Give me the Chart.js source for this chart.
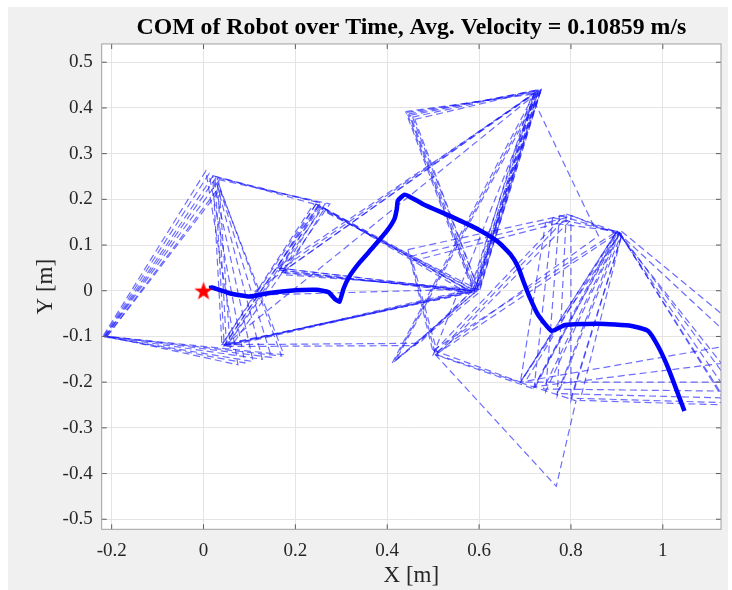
<!DOCTYPE html>
<html><head><meta charset="utf-8">
<script src="https://cdn.jsdelivr.net/npm/chart.js@4"></script>
<style>html,body{margin:0;padding:0;background:#fff;}canvas{display:block}</style>
</head><body>
<canvas id="c" width="732" height="590"></canvas>
<script>
// ---------- data ----------
const titleText = 'COM of Robot over Time, Avg. Velocity = 0.10859 m/s';
const xLabel = 'X [m]';
const yLabel = 'Y [m]';
const xTicks = [-0.2, 0, 0.2, 0.4, 0.6, 0.8, 1];
const xTickLabels = ['-0.2', '0', '0.2', '0.4', '0.6', '0.8', '1'];
const yTicks = [-0.5, -0.4, -0.3, -0.2, -0.1, 0, 0.1, 0.2, 0.3, 0.4, 0.5];
const yTickLabels = ['-0.5', '-0.4', '-0.3', '-0.2', '-0.1', '0', '0.1', '0.2', '0.3', '0.4', '0.5'];
const xRange = [-0.2217, 1.1267];
const yRange = [-0.522, 0.540];

// centre-of-mass path
const comX = [0.012, 0.018, 0.058, 0.101, 0.137, 0.188, 0.246, 0.272, 0.286, 0.296, 0.305, 0.318, 0.340, 0.369, 0.400, 0.416, 0.421, 0.423, 0.437, 0.447, 0.477, 0.542, 0.600, 0.640, 0.668, 0.685, 0.696, 0.710, 0.728, 0.758, 0.787, 0.86, 0.932, 0.968, 0.990, 1.012, 1.047];
const comY = [0.006, 0.007, -0.006, -0.0125, -0.006, 0.0, 0.002, -0.003, -0.018, -0.024, 0.005, 0.032, 0.062, 0.095, 0.132, 0.158, 0.180, 0.197, 0.21, 0.207, 0.19, 0.161, 0.133, 0.108, 0.080, 0.052, 0.022, -0.014, -0.052, -0.088, -0.075, -0.072, -0.077, -0.088, -0.122, -0.170, -0.263];
const startPoint = [0, 0];

// support triangles (three foot positions each)
const triangles = [
  [[-0.218,-0.098],[0.005,0.262],[0.075,-0.162]],
  [[-0.217,-0.100],[0.012,0.256],[0.090,-0.158]],
  [[-0.216,-0.101],[0.020,0.250],[0.108,-0.155]],
  [[-0.214,-0.100],[0.026,0.246],[0.128,-0.150]],
  [[-0.213,-0.099],[0.031,0.238],[0.148,-0.146]],
  [[-0.211,-0.100],[0.035,0.228],[0.170,-0.143]],
  [[-0.210,-0.100],[0.036,0.222],[0.175,-0.140]],
  [[0.020,0.252],[0.240,0.190],[0.040,-0.118]],
  [[0.025,0.250],[0.255,0.192],[0.045,-0.120]],
  [[0.030,0.247],[0.265,0.190],[0.050,-0.122]],
  [[0.033,0.243],[0.275,0.190],[0.058,-0.125]],
  [[0.245,0.190],[0.040,-0.118],[0.575,-0.005]],
  [[0.250,0.188],[0.045,-0.120],[0.580,0.000]],
  [[0.255,0.185],[0.050,-0.120],[0.585,0.004]],
  [[0.245,0.190],[0.160,0.050],[0.580,0.000]],
  [[0.250,0.185],[0.165,0.045],[0.585,-0.004]],
  [[0.255,0.180],[0.170,0.040],[0.590,0.000]],
  [[0.260,0.175],[0.175,0.035],[0.595,0.004]],
  [[0.160,0.050],[0.580,0.000],[0.720,0.430]],
  [[0.165,0.045],[0.585,-0.004],[0.725,0.436]],
  [[0.170,0.040],[0.590,0.000],[0.730,0.440]],
  [[0.100,-0.010],[0.592,0.004],[0.735,0.442]],
  [[0.045,-0.120],[0.590,0.000],[0.735,0.440]],
  [[0.440,0.392],[0.715,0.430],[0.585,0.005]],
  [[0.443,0.390],[0.720,0.433],[0.590,0.000]],
  [[0.447,0.387],[0.725,0.437],[0.592,-0.004]],
  [[0.450,0.384],[0.730,0.440],[0.595,0.000]],
  [[0.455,0.380],[0.733,0.441],[0.598,0.004]],
  [[0.460,0.375],[0.735,0.440],[0.600,0.000]],
  [[0.720,0.430],[0.410,-0.160],[0.595,0.000]],
  [[0.728,0.435],[0.415,-0.155],[0.600,-0.004]],
  [[0.735,0.440],[0.420,-0.150],[0.600,0.004]],
  [[0.045,-0.118],[0.470,-0.115],[0.580,-0.005]],
  [[0.050,-0.122],[0.460,-0.120],[0.585,0.000]],
  [[0.445,0.090],[0.785,0.165],[0.500,-0.135]],
  [[0.450,0.075],[0.790,0.160],[0.505,-0.140]],
  [[0.455,0.065],[0.800,0.155],[0.510,-0.140]],
  [[0.720,0.415],[0.860,0.120],[0.500,-0.140]],
  [[0.504,-0.139],[0.768,-0.428],[0.811,-0.241]],
  [[0.500,-0.130],[0.900,0.130],[0.690,-0.200]],
  [[0.505,-0.140],[0.900,0.125],[0.720,-0.215]],
  [[0.745,0.150],[0.900,0.130],[0.690,-0.200]],
  [[0.760,0.160],[0.905,0.128],[0.720,-0.210]],
  [[0.775,0.165],[0.905,0.125],[0.745,-0.220]],
  [[0.790,0.168],[0.910,0.125],[0.770,-0.230]],
  [[0.800,0.165],[0.910,0.120],[0.800,-0.240]],
  [[0.900,0.130],[1.160,-0.200],[0.700,-0.200]],
  [[0.905,0.128],[1.160,-0.220],[0.740,-0.215]],
  [[0.905,0.125],[1.150,-0.235],[0.770,-0.225]],
  [[0.910,0.120],[1.140,-0.245],[0.800,-0.235]],
  [[0.910,0.120],[1.140,-0.250],[0.820,-0.240]],
  [[0.910,0.130],[1.200,-0.110],[0.690,-0.200]],
  [[0.900,0.130],[1.200,-0.150],[0.720,-0.210]]
];

// ---------- styling / chart ----------
const SERIF = "'Liberation Serif', 'Times New Roman', serif";
const PLOT = {left: 101.7, right: 722.7, top: 44, bottom: 529.3};

function makeStar(size, color) {
  const c = document.createElement('canvas');
  c.width = size; c.height = size;
  const g = c.getContext('2d');
  const cx = size / 2, cy = size / 2 + 0.8, R = size / 2 - 0.3, r = R * 0.4;
  g.beginPath();
  for (let i = 0; i < 10; i++) {
    const a = -Math.PI / 2 + i * Math.PI / 5;
    const rr = i % 2 === 0 ? R : r;
    g.lineTo(cx + rr * Math.cos(a), cy + rr * Math.sin(a));
  }
  g.closePath();
  g.fillStyle = color;
  g.fill();
  return c;
}

const datasets = [];
datasets.push({
  label: 'start',
  data: [{x: startPoint[0], y: startPoint[1]}],
  showLine: false,
  pointStyle: makeStar(20, '#ff0000'),
  pointRadius: 10,
  clip: false
});
datasets.push({
  label: 'COM',
  data: comX.map((x, i) => ({x, y: comY[i]})),
  showLine: true,
  borderColor: '#0000ff',
  borderWidth: 4.5,
  pointRadius: 0,
  tension: 0.15,
  borderCapStyle: 'butt',
  borderJoinStyle: 'round'
});
triangles.forEach((t, k) => {
  const pts = t.concat([t[0]]).map(p => ({x: p[0], y: p[1]}));
  datasets.push({
    label: 'support ' + k,
    data: pts,
    showLine: true,
    borderColor: 'rgba(20,20,255,0.62)',
    borderWidth: 1.2,
    borderDash: [7, 4],
    pointRadius: 0,
    tension: 0
  });
});

const bgPlugin = {
  id: 'bg',
  beforeDraw(chart) {
    const ctx = chart.ctx, a = chart.chartArea;
    ctx.save();
    ctx.fillStyle = '#ffffff';
    ctx.fillRect(0, 0, chart.width, chart.height);
    ctx.fillStyle = '#f0f0f0';
    ctx.fillRect(8, 7, 720, 583);
    ctx.fillStyle = '#ffffff';
    ctx.fillRect(a.left, a.top, a.right - a.left, a.bottom - a.top);
    ctx.restore();
  }
};

const boxPlugin = {
  id: 'box',
  afterDraw(chart) {
    const ctx = chart.ctx, a = chart.chartArea;
    const xs = chart.scales.x, ys = chart.scales.y;
    ctx.save();
    ctx.strokeStyle = '#5a5a5a';
    ctx.lineWidth = 1;
    const tl = 5;
    ctx.beginPath();
    xTicks.forEach(v => {
      const px = xs.getPixelForValue(v);
      ctx.moveTo(px, a.bottom); ctx.lineTo(px, a.bottom - tl);
      ctx.moveTo(px, a.top); ctx.lineTo(px, a.top + tl);
    });
    yTicks.forEach(v => {
      const py = ys.getPixelForValue(v);
      ctx.moveTo(a.left, py); ctx.lineTo(a.left + tl, py);
      ctx.moveTo(a.right, py); ctx.lineTo(a.right - tl, py);
    });
    ctx.stroke();
    ctx.strokeStyle = '#a0a0a0';
    ctx.strokeRect(a.left, a.top, a.right - a.left, a.bottom - a.top);
    ctx.restore();
  }
};

new Chart(document.getElementById('c'), {
  type: 'scatter',
  data: {datasets},
  options: {
    responsive: false,
    animation: false,
    devicePixelRatio: 1,
    layout: {padding: {left: 0, right: 732 - PLOT.right, top: 0, bottom: 0}},
    plugins: {
      legend: {display: false},
      tooltip: {enabled: false},
      title: {
        display: true,
        text: titleText,
        fullSize: false,
        color: '#000000',
        font: {family: SERIF, size: 23.8, weight: 'bold', lineHeight: 1.2},
        padding: {top: 13.4, bottom: 2.0}
      }
    },
    scales: {
      x: {
        type: 'linear',
        min: xRange[0], max: xRange[1],
        afterBuildTicks: s => { s.ticks = xTicks.map(v => ({value: v})); },
        afterFit: s => { s.height = 590 - PLOT.bottom; },
        ticks: {
          color: '#262626',
          font: {family: SERIF, size: 19},
          padding: 10,
          maxRotation: 0,
          autoSkip: false,
          callback: (v) => { const i = xTicks.findIndex(t => Math.abs(t - v) < 1e-9); return i >= 0 ? xTickLabels[i] : ''; }
        },
        grid: {color: '#e4e4e4', lineWidth: 1, drawTicks: false},
        border: {display: false},
        title: {display: true, text: xLabel, color: '#262626', font: {family: SERIF, size: 23}, padding: {top: 0, bottom: 0}}
      },
      y: {
        type: 'linear',
        min: yRange[0], max: yRange[1],
        afterBuildTicks: s => { s.ticks = yTicks.map(v => ({value: v})); },
        afterFit: s => { s.width = PLOT.left; },
        ticks: {
          color: '#262626',
          font: {family: SERIF, size: 19},
          padding: 9,
          autoSkip: false,
          callback: (v) => { const i = yTicks.findIndex(t => Math.abs(t - v) < 1e-9); return i >= 0 ? yTickLabels[i] : ''; }
        },
        grid: {color: '#e4e4e4', lineWidth: 1, drawTicks: false},
        border: {display: false},
        title: {display: true, text: yLabel, color: '#262626', font: {family: SERIF, size: 23}, padding: {top: 32, bottom: 0}}
      }
    }
  },
  plugins: [bgPlugin, boxPlugin]
});
</script>
</body></html>
